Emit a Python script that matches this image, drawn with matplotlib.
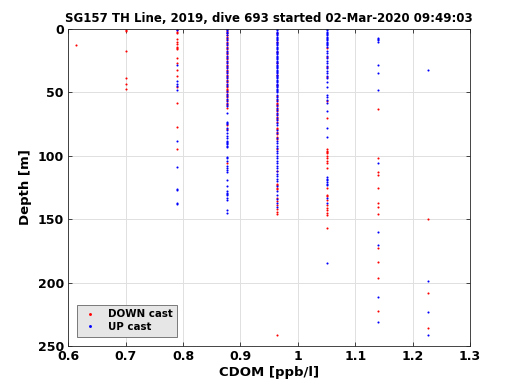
import matplotlib
matplotlib.use("Agg")
import matplotlib.pyplot as plt

title = "SG157 TH Line, 2019, dive 693 started 02-Mar-2020 09:49:03"
xlabel = "CDOM [ppb/l]"
ylabel = "Depth [m]"
legend_labels = ["DOWN cast", "UP cast"]

# CDOM levels (discrete sensor steps)
lv = [0.614, 0.701, 0.789, 0.876, 0.964, 1.051, 1.139, 1.226]

# depths per level, down cast (red)
down_depths = {
    0.614: [12.6],
    0.701: [0.5, 1.5, 17, 39, 43, 47],
    0.789: [0.5, 2, 3, 8, 10, 12, 14, 15, 16, 23, 27, 32, 37, 46, 58, 77, 95],
    0.876: [0.3, 1.5, 3, 4.5, 6, 8, 10, 12, 14, 16, 18, 20, 22, 24, 26, 28, 30,
            32, 34, 36, 38, 40, 42, 44, 46, 47, 48, 50, 52, 54, 56, 58, 60, 62,
            76, 79, 106],
    0.964: [3, 10, 18, 27, 36, 44, 53, 56, 58, 59, 61, 63, 65, 67, 69, 71, 73,
            78, 79, 81, 83, 85, 87, 95, 112, 122, 123, 125, 126, 133, 136, 139,
            142, 144, 146, 241],
    1.051: [15, 22, 30, 38, 57, 70, 95, 96, 97, 98, 100, 102, 104, 106, 110,
            125, 131, 132, 135, 139, 141, 143, 145, 147, 157],
    1.139: [63, 102, 113, 115, 125, 137, 140, 146, 173, 184, 196, 222],
    1.226: [150, 208, 236],
}

# depths per level, up cast (blue)
up_depths = {
    0.614: [],
    0.701: [],
    0.789: [1, 28, 41, 43, 45, 48, 88, 109, 126, 127, 137, 138],
    0.876: [0, 1, 2, 3.5, 5, 7, 9, 11, 13, 15, 17, 19, 21, 23, 25, 27, 29, 31,
            33, 35, 37, 39, 41, 43, 45, 49, 51, 53, 55, 57, 59, 61, 66, 73, 74,
            75, 78, 80, 82, 84, 86, 88, 89, 90, 91, 92, 93, 101, 102, 104, 108,
            110, 111, 113, 119, 124, 128, 129, 130, 131, 133, 135, 143, 145],
    0.964: [0, 1, 2, 3, 4, 5, 6, 7, 8, 9, 10, 11, 12, 13, 14, 15, 16, 17, 18,
            19, 20, 21, 22, 23, 24, 25, 26, 27, 28, 29, 30, 31, 32, 33, 34, 35,
            36, 37, 38, 39, 40, 41, 42, 43, 44, 45, 46, 47, 48, 49, 50, 52, 54,
            55, 57, 60, 62, 64, 66, 68, 70, 72, 74, 76, 80, 82, 86, 88, 90, 92,
            94, 96, 98, 100, 102, 104, 106, 108, 110, 112, 114, 116, 118, 120,
            124, 128, 131, 134, 137, 140],
    1.051: [0, 1, 2, 3, 4, 5, 6, 7, 8, 9, 10, 11, 12, 13, 14, 17, 19, 21, 23,
            25, 27, 29, 31, 33, 35, 37, 39, 42, 46, 52, 54, 56, 58, 65, 78, 85,
            117, 118, 119, 121, 122, 123, 133, 137, 184.5],
    1.139: [7, 8, 9, 10, 28, 35, 48, 106, 160, 170, 211, 231],
    1.226: [32.5, 199, 223, 241],
}

xticks = [0.6, 0.7, 0.8, 0.9, 1.0, 1.1, 1.2, 1.3]
xticklabels = ["0.6", "0.7", "0.8", "0.9", "1", "1.1", "1.2", "1.3"]
yticks = [0, 50, 100, 150, 200, 250]

dx, dy = [], []
for k in lv:
    for d in down_depths[k]:
        dx.append(k); dy.append(d)
ux, uy = [], []
for k in lv:
    for d in up_depths[k]:
        ux.append(k); uy.append(d)

plt.rcParams['font.family'] = ['DejaVu Sans']
plt.rcParams['font.weight'] = 'bold'

fig = plt.figure(figsize=(5.2, 3.9), dpi=100)
ax = fig.add_axes([0.131, 0.1128, 0.773, 0.8128])

ax.plot(dx, dy, linestyle='none', marker='o', ms=1.5, mec='none', mfc=(1, 0, 0),
        label=legend_labels[0])
ax.plot(ux, uy, linestyle='none', marker='o', ms=1.5, mec='none', mfc=(0, 0, 1),
        label=legend_labels[1])

ax.set_xlim(0.6, 1.3)
ax.set_ylim(250, 0)
ax.set_xticks(xticks)
ax.set_xticklabels(xticklabels)
ax.set_yticks(yticks)
ax.grid(True, color=(0.88, 0.88, 0.88), linewidth=0.7)
ax.set_axisbelow(True)
for s in ax.spines.values():
    s.set_color((0.15, 0.15, 0.15))
    s.set_linewidth(0.6)
ax.tick_params(direction='in', length=3, width=0.6, top=True, right=True,
               labelsize=9, colors=(0.15, 0.15, 0.15), labelcolor='black', pad=3)
for lab in ax.get_xticklabels() + ax.get_yticklabels():
    lab.set_fontweight('bold')

ax.set_xlabel(xlabel, fontsize=9.5, fontweight='bold', labelpad=2)
ax.set_ylabel(ylabel, fontsize=9.5, fontweight='bold', labelpad=4)
ax.set_title(title, fontsize=8.5, fontweight='bold', pad=5)

leg = ax.legend(loc='lower left', bbox_to_anchor=(0.015, 0.02),
                frameon=True, fancybox=False, markerscale=1.4,
                handlelength=1.5, handletextpad=1.0, borderpad=0.45,
                labelspacing=0.25, borderaxespad=0.3,
                prop={'weight': 'bold', 'size': 7.4})
leg.get_frame().set_facecolor((0.9, 0.9, 0.9))
leg.get_frame().set_edgecolor((0.4, 0.4, 0.4))
leg.get_frame().set_linewidth(0.6)
leg.get_frame().set_alpha(1)

fig.savefig("out.png", dpi=100, facecolor='white')
